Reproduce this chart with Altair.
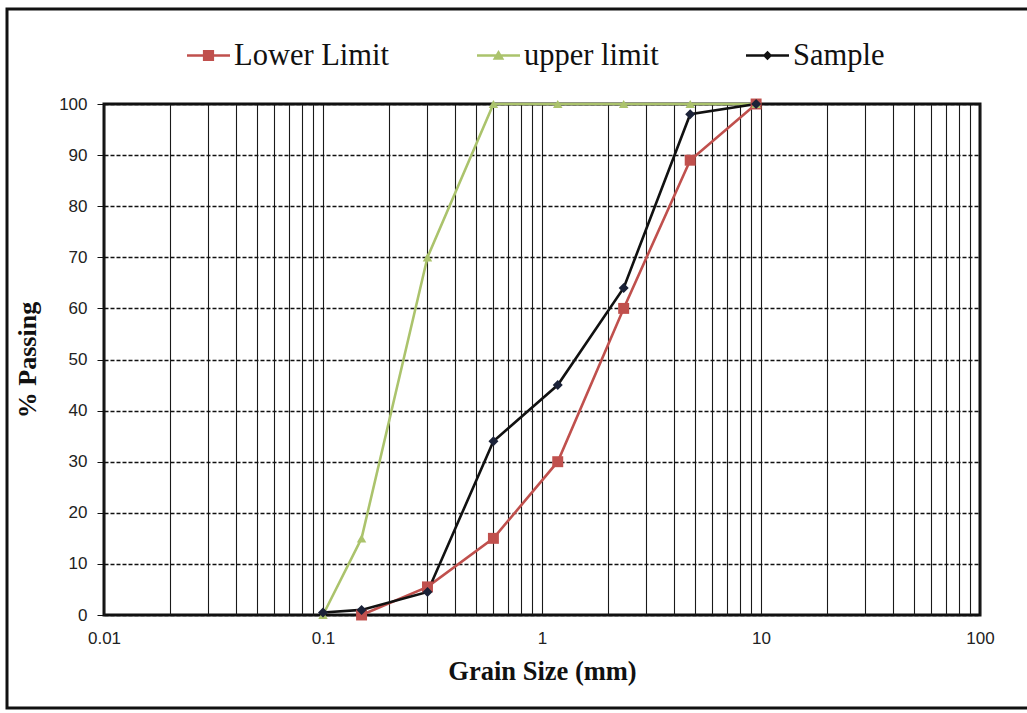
import altair as alt
import pandas as pd

series_names = ["Lower Limit", "upper limit", "Sample"]
series_colors = ["#c0504d", "#abc36c", "#111111"]
marker_colors = ["#c0504d", "#abc36c", "#1b2238"]

lower_sizes = [0.15, 0.3, 0.6, 1.18, 2.36, 4.75, 9.5]
lower_vals = [0, 5.5, 15, 30, 60, 89, 100]
upper_sizes = [0.1, 0.15, 0.3, 0.6, 1.18, 2.36, 4.75, 9.5]
upper_vals = [0, 15, 70, 100, 100, 100, 100, 100]
sample_sizes = [0.1, 0.15, 0.3, 0.6, 1.18, 2.36, 4.75, 9.5]
sample_vals = [0.5, 1, 4.5, 34, 45, 64, 98, 100]

x_major = [0.01, 0.1, 1, 10, 100]
x_grid_values = [round(k * 10 ** e, 4) for e in range(-2, 2) for k in range(1, 10)] + [100]
y_ticks = list(range(0, 101, 10))

rows = []
for name, xs, ys in [("Lower Limit", lower_sizes, lower_vals),
                     ("upper limit", upper_sizes, upper_vals),
                     ("Sample", sample_sizes, sample_vals)]:
    for x, y in zip(xs, ys):
        rows.append({"series": name, "size": x, "pct": y})
df = pd.DataFrame(rows)

line_bar = "M-1,-0.06H1V0.06H-1Z "
legend_paths = [
    line_bar + "M-0.26,-0.26H0.26V0.26H-0.26Z",
    line_bar + "M0,-0.26L0.27,0.2L-0.27,0.2Z",
    line_bar + "M0,-0.22L0.22,0L0,0.22L-0.22,0Z",
]

x_enc = alt.X(
    "size:Q",
    scale=alt.Scale(type="log", domain=[0.01, 100], nice=False),
    axis=alt.Axis(
        values=x_grid_values, format="~g",
        labelExpr="indexof([0.01, 0.1, 1, 10, 100], datum.value) >= 0 ? datum.label : ''",
        grid=True, gridColor="#1a1a1a", gridWidth=1.1, ticks=False, domain=False,
        labelOverlap=False, labelFlush=False,
        labelFont="Liberation Sans", labelFontSize=17, labelColor="#222222", labelPadding=15,
        title="Grain Size (mm)", titleFont="Liberation Serif", titleFontSize=26.5,
        titleFontWeight="bold", titleColor="#111111", titlePadding=12,
    ),
)
y_enc = alt.Y(
    "pct:Q",
    scale=alt.Scale(domain=[0, 100], nice=False),
    axis=alt.Axis(
        values=y_ticks, grid=True, gridColor="#111111", gridWidth=1.6, gridDash=[4, 2],
        ticks=True, tickSize=7, tickColor="#111111", domain=False,
        labelFont="Liberation Sans", labelFontSize=17, labelColor="#222222", labelPadding=10,
        title="% Passing", titleFont="Liberation Serif", titleFontSize=26,
        titleFontWeight="bold", titleColor="#111111", titlePadding=18,
    ),
)

base = alt.Chart(df)

shapes = {"Lower Limit": ("square", 120), "upper limit": ("triangle-up", 90), "Sample": ("diamond", 100)}
line_layers = []
point_layers = []
for name, lc, mc in zip(series_names, series_colors, marker_colors):
    shp, sz = shapes[name]
    sub = base.transform_filter(alt.datum.series == name)
    line_layers.append(
        sub.mark_line(strokeWidth=2.6, color=lc).encode(x=x_enc, y=y_enc, order="size:Q")
    )
    point_layers.append(
        sub.mark_point(filled=True, shape=shp, size=sz, opacity=1, color=mc).encode(x=x_enc, y=y_enc)
    )

leg = alt.Legend(
    orient="none", legendX=83, legendY=-70, direction="horizontal", title=None,
    symbolSize=1849, symbolStrokeWidth=0, symbolOpacity=1,
    labelFont="Liberation Serif", labelFontSize=30.5, labelColor="#111111",
    labelOffset=4, columnPadding=87, padding=0, labelLimit=400,
)
legend_layer = base.transform_filter("false").mark_point(filled=True).encode(
    x=x_enc, y=y_enc,
    color=alt.Color("series:N", scale=alt.Scale(domain=series_names, range=series_colors), legend=leg),
    shape=alt.Shape("series:N", scale=alt.Scale(domain=series_names, range=legend_paths), legend=leg),
)

frame = alt.Chart(pd.DataFrame({"a": [0]})).mark_rect(
    fillOpacity=0, stroke="#111111", strokeWidth=3
).encode(x=alt.value(-97), x2=alt.value(930), y=alt.value(-95), y2=alt.value(604))

chart = alt.layer(frame, *line_layers, *point_layers, legend_layer).properties(
    width=876, height=511,
    padding={"left": 104, "top": 104, "right": 47, "bottom": 98},
    autosize="none",
).configure_view(stroke="#111111", strokeWidth=3)

chart.save("out.html", embed_options={"renderer": "svg", "actions": False})
